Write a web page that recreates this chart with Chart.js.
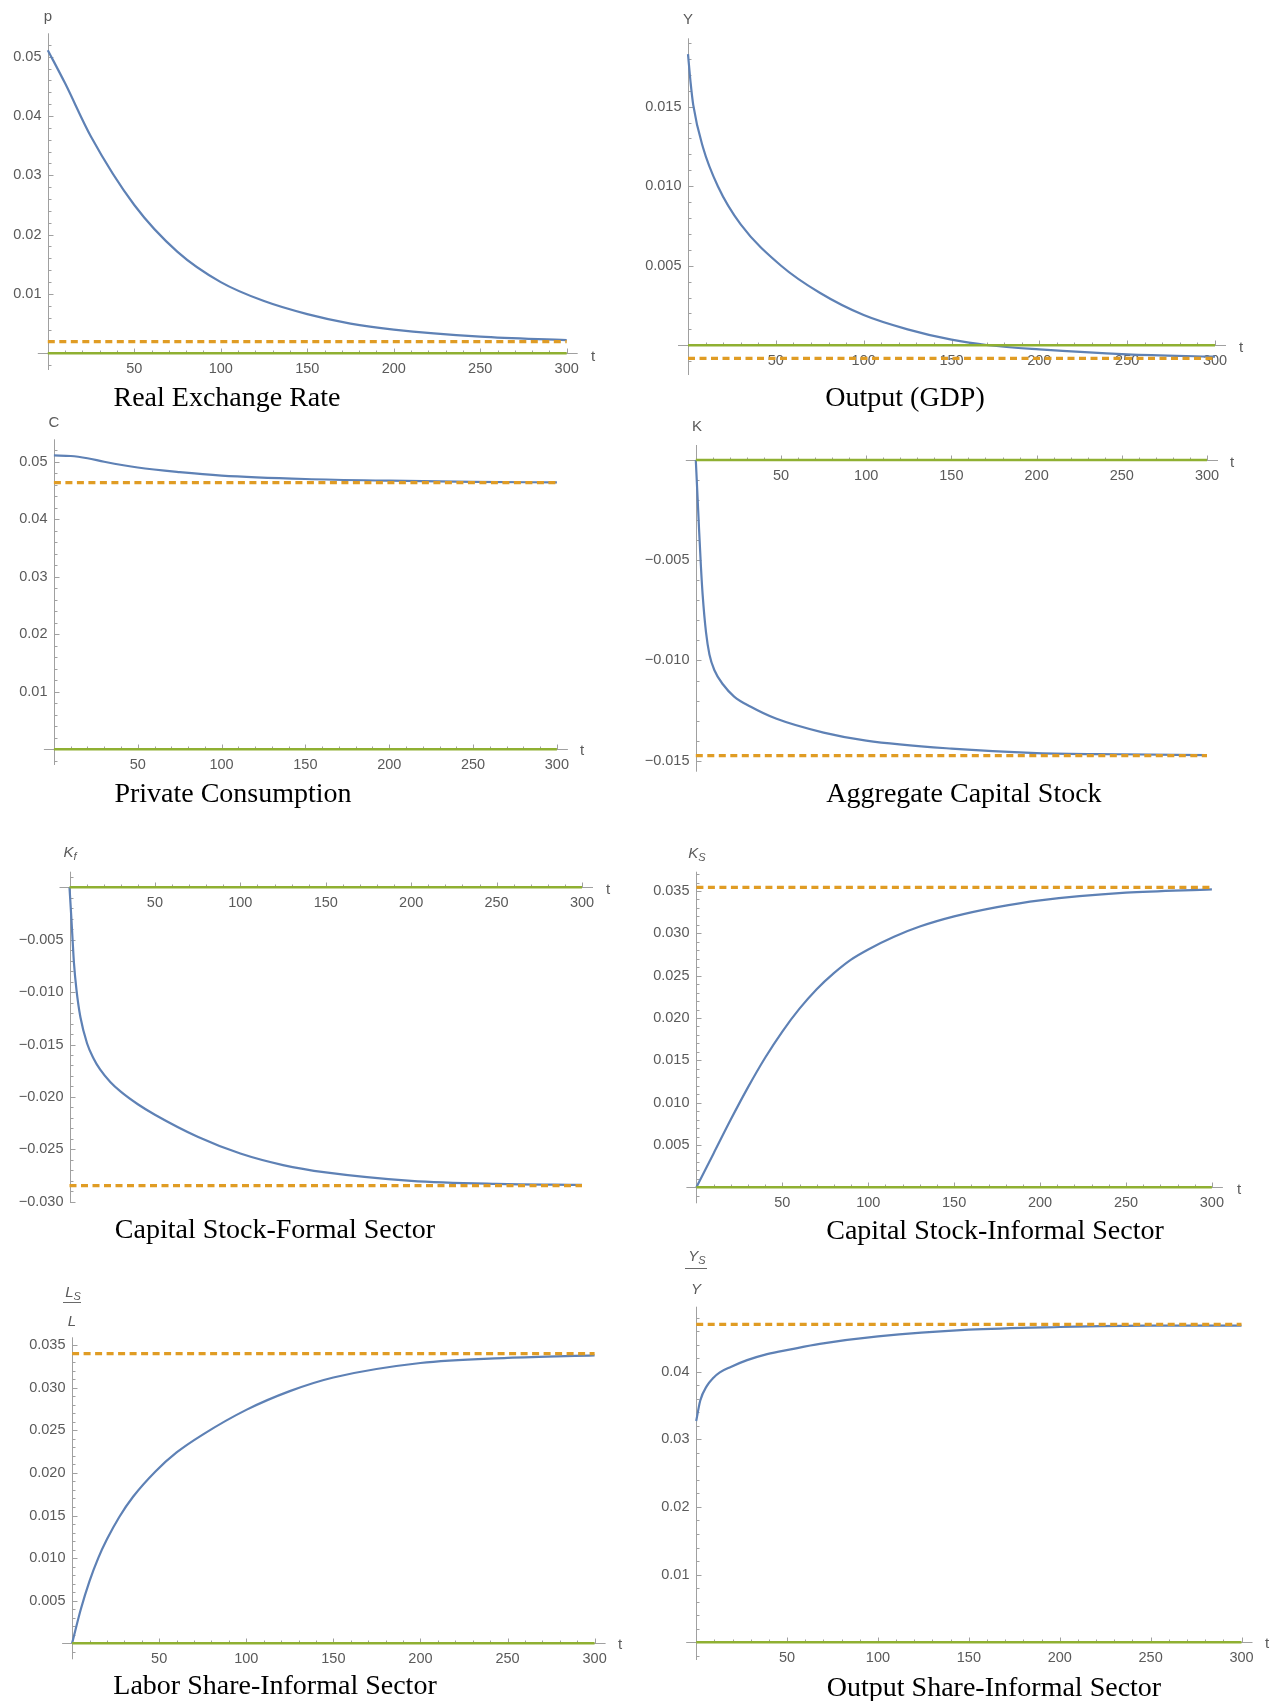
<!DOCTYPE html>
<html>
<head>
<meta charset="utf-8">
<script src="https://cdn.jsdelivr.net/npm/chart.js@4.4.1/dist/chart.umd.min.js"></script>
<style>
  body { margin: 0; background: #fff; }
  #page { position: relative; width: 1271px; height: 1701px; overflow: hidden; background: #fff; }
  canvas { position: absolute; }
  .title { position: absolute; font-family: "Liberation Serif", "Times New Roman", serif; font-size: 28px; color: #000;
           transform: translate(-50%, -50%); white-space: nowrap; line-height: 1; }
  .lab { position: absolute; font-family: "Liberation Sans", Arial, sans-serif; font-size: 15px; color: #5a5a5a;
         transform: translate(-50%, -50%); white-space: nowrap; line-height: 1; }
  .it { font-style: italic; }
  .lab sub { font-size: 11px; line-height: 0; vertical-align: -3px; }
  .bar { position: absolute; height: 1px; background: #6a6a6a; }
</style>
</head>
<body>
<div id="page">
  <canvas id="c1"></canvas><canvas id="c2"></canvas>
  <canvas id="c3"></canvas><canvas id="c4"></canvas>
  <canvas id="c5"></canvas><canvas id="c6"></canvas>
  <canvas id="c7"></canvas><canvas id="c8"></canvas>

  <div class="title" style="left:227px;top:397px">Real Exchange Rate</div>
  <div class="title" style="left:905px;top:397px">Output (GDP)</div>
  <div class="title" style="left:233px;top:793px">Private Consumption</div>
  <div class="title" style="left:964px;top:793px">Aggregate Capital Stock</div>
  <div class="title" style="left:275px;top:1229px">Capital Stock-Formal Sector</div>
  <div class="title" style="left:995px;top:1230px">Capital Stock-Informal Sector</div>
  <div class="title" style="left:275px;top:1685px">Labor Share-Informal Sector</div>
  <div class="title" style="left:994px;top:1687px">Output Share-Informal Sector</div>

  <div class="lab" style="left:48px;top:15px">p</div>
  <div class="lab" style="left:593px;top:355px">t</div>
  <div class="lab" style="left:688px;top:18px">Y</div>
  <div class="lab" style="left:1241px;top:346px">t</div>
  <div class="lab" style="left:54px;top:421px">C</div>
  <div class="lab" style="left:582px;top:749px">t</div>
  <div class="lab" style="left:697px;top:425px">K</div>
  <div class="lab" style="left:1232px;top:461px">t</div>
  <div class="lab it" style="left:70px;top:851px">K<sub>f</sub></div>
  <div class="lab" style="left:608px;top:888px">t</div>
  <div class="lab it" style="left:697px;top:852px">K<sub>S</sub></div>
  <div class="lab" style="left:1239px;top:1188px">t</div>
  <div class="lab it" style="left:73px;top:1291px">L<sub>S</sub></div>
  <div class="bar" style="left:63px;top:1302px;width:18px"></div>
  <div class="lab it" style="left:72px;top:1320px">L</div>
  <div class="lab" style="left:620px;top:1643px">t</div>
  <div class="lab it" style="left:697px;top:1255px">Y<sub>S</sub></div>
  <div class="bar" style="left:685px;top:1268px;width:22px"></div>
  <div class="lab it" style="left:696px;top:1288px">Y</div>
  <div class="lab" style="left:1267px;top:1642px">t</div>
</div>

<script>
// time axis
const tRange = [0, 300];
const tTicks = [50, 100, 150, 200, 250, 300];
const tTickLabels = ['50', '100', '150', '200', '250', '300'];

// Real exchange rate
const tP = [0, 10, 25, 50, 75, 100, 125, 150, 175, 200, 250, 300];
const pValues = [0.0511, 0.0455, 0.0365, 0.0250, 0.0171, 0.0120, 0.0088, 0.0066, 0.0050, 0.0040, 0.0028, 0.0022];
const pSteady = 0.00196;
const pTicks = [0.01, 0.02, 0.03, 0.04, 0.05];
const pTickLabels = ['0.01', '0.02', '0.03', '0.04', '0.05'];

// Output (GDP)
const tY = [0, 1.5, 3, 8.5, 17, 30, 53, 75, 100, 125, 150, 171, 200, 250, 300];
const yValues = [0.0183, 0.0165, 0.0151, 0.01245, 0.0100, 0.0076, 0.0050, 0.0033, 0.0019, 0.0010, 0.00035, 0, -0.00026, -0.00057, -0.00072];
const ySteady = -0.00082;
const yTicks = [0.005, 0.010, 0.015];
const yTickLabels = ['0.005', '0.010', '0.015'];

// Private consumption
const tC = [0, 10, 20, 30, 50, 75, 100, 150, 200, 250, 300];
const cValues = [0.0511, 0.0510, 0.0506, 0.0500, 0.0490, 0.0482, 0.0476, 0.0470, 0.0467, 0.0465, 0.0464];
const cSteady = 0.04635;
const cTicks = [0.01, 0.02, 0.03, 0.04, 0.05];
const cTickLabels = ['0.01', '0.02', '0.03', '0.04', '0.05'];

// Aggregate capital stock
const tK = [0, 1, 2, 3, 4, 6, 8, 11, 16, 22.5, 32, 47, 75, 100, 150, 200, 250, 300];
const kValues = [0, -0.0018, -0.0036, -0.0053, -0.0067, -0.0086, -0.0097, -0.0105, -0.0112, -0.0118, -0.0123, -0.0129, -0.0136, -0.0140, -0.0144, -0.01462, -0.01468, -0.01472];
const kSteady = -0.01475;
const kTicks = [-0.005, -0.010, -0.015];
const kTickLabels = ['\u22120.005', '\u22120.010', '\u22120.015'];

// Capital stock, formal sector
const tKf = [0, 1, 1.8, 2.6, 4.1, 6.4, 10.3, 14, 18, 24, 30, 40, 50, 75, 100, 125, 150, 200, 250, 300];
const kfValues = [0, -0.0027, -0.0050, -0.0072, -0.0098, -0.0124, -0.0149, -0.0163, -0.0174, -0.0186, -0.0195, -0.0207, -0.0217, -0.0238, -0.0254, -0.0265, -0.0272, -0.0280, -0.0283, -0.0284];
const kfSteady = -0.02846;
const kfTicks = [-0.005, -0.010, -0.015, -0.020, -0.025, -0.030];
const kfTickLabels = ['\u22120.005', '\u22120.010', '\u22120.015', '\u22120.020', '\u22120.025', '\u22120.030'];

// Capital stock, informal sector
const tKs = [0, 10, 20, 30, 40, 50, 60, 70, 80, 90, 100, 115, 130, 150, 175, 200, 250, 300];
const ksValues = [0, 0.0040, 0.0080, 0.0118, 0.0153, 0.0184, 0.0211, 0.0234, 0.0253, 0.0269, 0.0281, 0.0296, 0.0308, 0.0320, 0.0331, 0.0339, 0.0348, 0.0352];
const ksSteady = 0.03543;
const ksTicks = [0.005, 0.010, 0.015, 0.020, 0.025, 0.030, 0.035];
const ksTickLabels = ['0.005', '0.010', '0.015', '0.020', '0.025', '0.030', '0.035'];

// Labor share, informal sector
const tL = [0, 5, 10, 15, 20, 27, 35, 48, 60, 75, 100, 125, 150, 200, 250, 300];
const lValues = [0, 0.0040, 0.0073, 0.0100, 0.0122, 0.0148, 0.0172, 0.0202, 0.0224, 0.0245, 0.0274, 0.0296, 0.0312, 0.0329, 0.0335, 0.0338];
const lSteady = 0.0340;
const lTicks = [0.005, 0.010, 0.015, 0.020, 0.025, 0.030, 0.035];
const lTickLabels = ['0.005', '0.010', '0.015', '0.020', '0.025', '0.030', '0.035'];

// Output share, informal sector
const tYs = [0, 2.2, 5.9, 9.5, 13, 19, 28, 39, 52, 68, 100, 150, 200, 250, 300];
const ysValues = [0.0327, 0.0357, 0.0379, 0.0391, 0.0399, 0.0407, 0.0417, 0.0426, 0.0433, 0.0441, 0.0452, 0.0462, 0.0466, 0.0468, 0.0468];
const ysSteady = 0.0470;
const ysTicks = [0.01, 0.02, 0.03, 0.04];
const ysTickLabels = ['0.01', '0.02', '0.03', '0.04'];

const BLUE = '#5E81B5', ORANGE = '#E09C24', GREEN = '#8FB032';

// canvas box + plot rectangle (page px) + y range for each panel
const panels = [
  { id: 'c1', box: [0, 0, 635, 410],    plot: { l: 47.8, r: 566.7, t: 33.3, b: 370 },    yMin: -0.00282, yMax: 0.05394, major: 0.01,  minor: 0.002, t: tP,  v: pValues,  ss: pSteady,  ticks: pTicks,  labels: pTickLabels },
  { id: 'c2', box: [635, 0, 636, 410],  plot: { l: 688, r: 1215, t: 38.3, b: 375 },      yMin: -0.00187, yMax: 0.0193,  major: 0.005, minor: 0.001, t: tY,  v: yValues,  ss: ySteady,  ticks: yTicks,  labels: yTickLabels },
  { id: 'c3', box: [0, 410, 635, 410],  plot: { l: 53.9, r: 556.9, t: 439.3, b: 765 },   yMin: -0.00273, yMax: 0.0539,  major: 0.01,  minor: 0.002, t: tC,  v: cValues,  ss: cSteady,  ticks: cTicks,  labels: cTickLabels },
  { id: 'c4', box: [635, 410, 636, 410],plot: { l: 695.8, r: 1207, t: 445, b: 771.7 },   yMin: -0.01555, yMax: 0.00075, major: 0.005, minor: 0.001, t: tK,  v: kValues,  ss: kSteady,  ticks: kTicks,  labels: kTickLabels },
  { id: 'c5', box: [0, 820, 635, 420],  plot: { l: 69.5, r: 582, t: 871.7, b: 1203 },    yMin: -0.03012, yMax: 0.00149, major: 0.005, minor: 0.001, t: tKf, v: kfValues, ss: kfSteady, ticks: kfTicks, labels: kfTickLabels },
  { id: 'c6', box: [635, 820, 636, 420],plot: { l: 696.4, r: 1211.9, t: 871.7, b: 1203.3 }, yMin: -0.00189, yMax: 0.03728, major: 0.005, minor: 0.001, t: tKs, v: ksValues, ss: ksSteady, ticks: ksTicks, labels: ksTickLabels },
  { id: 'c7', box: [0, 1240, 635, 461], plot: { l: 72.1, r: 594.6, t: 1337.3, b: 1659.3 }, yMin: -0.00188, yMax: 0.03592, major: 0.005, minor: 0.001, t: tL,  v: lValues,  ss: lSteady,  ticks: lTicks,  labels: lTickLabels },
  { id: 'c8', box: [635, 1240, 636, 461], plot: { l: 696.2, r: 1241.5, t: 1306.7, b: 1660 }, yMin: -0.00262, yMax: 0.0496, major: 0.01,  minor: 0.002, t: tYs, v: ysValues, ss: ysSteady, ticks: ysTicks, labels: ysTickLabels }
];

// Mathematica-like axes crossing at the origin, drawn from the chart's scales
function makeAxes(p) {
  return {
    id: 'mmaAxes',
    beforeDatasetsDraw(chart) {
      const { ctx, chartArea, scales: { x, y } } = chart;
      const ax = Math.round(x.getPixelForValue(0)) + 0.5;
      const ay = Math.round(y.getPixelForValue(0)) + 0.5;
      ctx.save();
      ctx.strokeStyle = '#a0a0a0';
      ctx.lineWidth = 1;
      ctx.beginPath();
      ctx.moveTo(x.getPixelForValue(tRange[0]) - 10, ay);
      ctx.lineTo(x.getPixelForValue(tRange[1]) + 11, ay);
      ctx.moveTo(ax, chartArea.top);
      ctx.lineTo(ax, chartArea.bottom);
      for (let k = 1; k <= 30; k++) {
        const px = Math.round(x.getPixelForValue(k * 10)) + 0.5;
        const len = k % 5 === 0 ? 5 : 3;
        ctx.moveTo(px, ay);
        ctx.lineTo(px, ay - len);
      }
      const per = Math.round(p.major / p.minor);
      const n0 = Math.ceil(p.yMin / p.minor), n1 = Math.floor(p.yMax / p.minor);
      for (let k = n0; k <= n1; k++) {
        if (k === 0) continue;
        const py = Math.round(y.getPixelForValue(k * p.minor)) + 0.5;
        const len = k % per === 0 ? 5 : 3;
        ctx.moveTo(ax, py);
        ctx.lineTo(ax + len, py);
      }
      ctx.stroke();

      ctx.fillStyle = '#5a5a5a';
      ctx.font = '14.5px "Liberation Sans", Arial, sans-serif';
      ctx.textBaseline = 'middle';
      ctx.textAlign = 'center';
      tTicks.forEach((t, i) => ctx.fillText(tTickLabels[i], x.getPixelForValue(t), ay + 15));
      ctx.textAlign = 'right';
      p.ticks.forEach((v, i) => ctx.fillText(p.labels[i], ax - 7, y.getPixelForValue(v)));
      ctx.restore();
    }
  };
}

panels.forEach(p => {
  const cv = document.getElementById(p.id);
  const [bx, by, bw, bh] = p.box;
  cv.width = bw; cv.height = bh;
  cv.style.left = bx + 'px'; cv.style.top = by + 'px';
  cv.style.width = bw + 'px'; cv.style.height = bh + 'px';

  new Chart(cv.getContext('2d'), {
    type: 'line',
    data: {
      datasets: [
        { data: tRange.map(t => ({ x: t, y: 0 })), borderColor: GREEN, borderWidth: 2.6, clip: false },
        { data: tRange.map(t => ({ x: t, y: p.ss })), borderColor: ORANGE, borderWidth: 3.2, borderDash: [7, 4.5], clip: false },
        { data: p.t.map((t, i) => ({ x: t, y: p.v[i] })), borderColor: BLUE, borderWidth: 2.2,
          cubicInterpolationMode: 'monotone', clip: false }
      ]
    },
    options: {
      responsive: false,
      animation: false,
      events: [],
      devicePixelRatio: 1,
      layout: {
        padding: {
          left: p.plot.l - bx,
          right: bx + bw - p.plot.r,
          top: p.plot.t - by,
          bottom: by + bh - p.plot.b
        }
      },
      scales: {
        x: { type: 'linear', min: tRange[0], max: tRange[1], display: false },
        y: { type: 'linear', min: p.yMin, max: p.yMax, display: false }
      },
      elements: { point: { radius: 0 }, line: { borderCapStyle: 'butt' } },
      plugins: { legend: { display: false }, tooltip: { enabled: false } }
    },
    plugins: [makeAxes(p)]
  });
});
</script>
</body>
</html>
